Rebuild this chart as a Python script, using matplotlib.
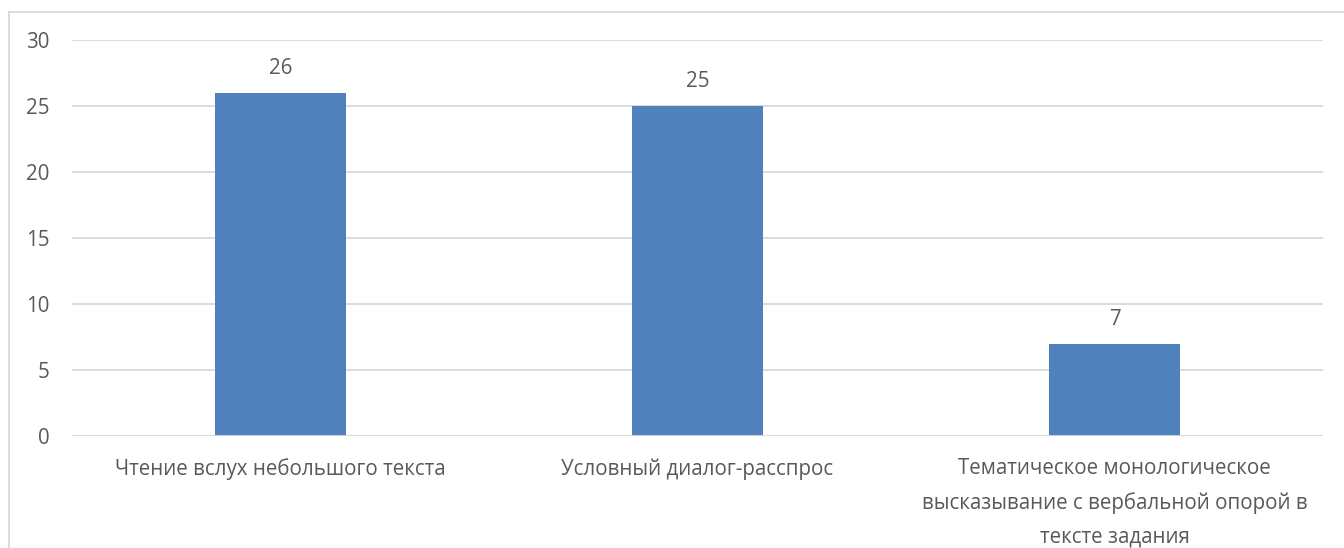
import matplotlib.pyplot as plt
from matplotlib.lines import Line2D

# данные
categories = ['Чтение вслух небольшого текста',
              'Условный диалог-расспрос',
              'Тематическое монологическое\nвысказывание с вербальной опорой в\nтексте задания']
values = [26, 25, 7]
yticks = [0, 5, 10, 15, 20, 25, 30]

plt.rcParams['font.family'] = ['Open Sans', 'DejaVu Sans']
text_color = '#595959'
grid_color = '#D9D9D9'
bar_color = '#4F81BD'
fs = 14.8

fig = plt.figure(figsize=(13.44, 5.48), dpi=100)
ax = fig.add_axes([72/1344, 1-436/548, (1323-72)/1344, (436-40)/548])

x = range(len(categories))
bars = ax.bar(x, values, width=0.314, color=bar_color, zorder=3)

ax.set_xlim(-0.5, len(categories) - 0.5)
ax.set_ylim(0, 30)
ax.set_yticks(yticks)
ax.set_xticks(list(x))
ax.set_xticklabels(categories, linespacing=1.78)
ax.yaxis.grid(True, color=grid_color, linewidth=1.3, zorder=0)
for s in ax.spines.values():
    s.set_visible(False)
ax.axhline(0, color=grid_color, linewidth=1.3, zorder=4)
ax.tick_params(axis='both', length=0, labelsize=fs, labelcolor=text_color)
ax.tick_params(axis='y', pad=16)
ax.tick_params(axis='x', pad=16)

for b, v in zip(bars, values):
    ax.annotate(str(v), (b.get_x() + b.get_width()/2, v),
                xytext=(0, 10), textcoords='offset points',
                ha='center', va='bottom', fontsize=fs, color=text_color)

# рамка диаграммы
fig.add_artist(Line2D([8.5/1344, 8.5/1344], [0, 1-11.5/548], transform=fig.transFigure,
                      color=grid_color, linewidth=1.3))
fig.add_artist(Line2D([8.5/1344, 1], [1-11.5/548, 1-11.5/548], transform=fig.transFigure,
                      color=grid_color, linewidth=1.3))

fig.savefig('out.png', dpi=100)
